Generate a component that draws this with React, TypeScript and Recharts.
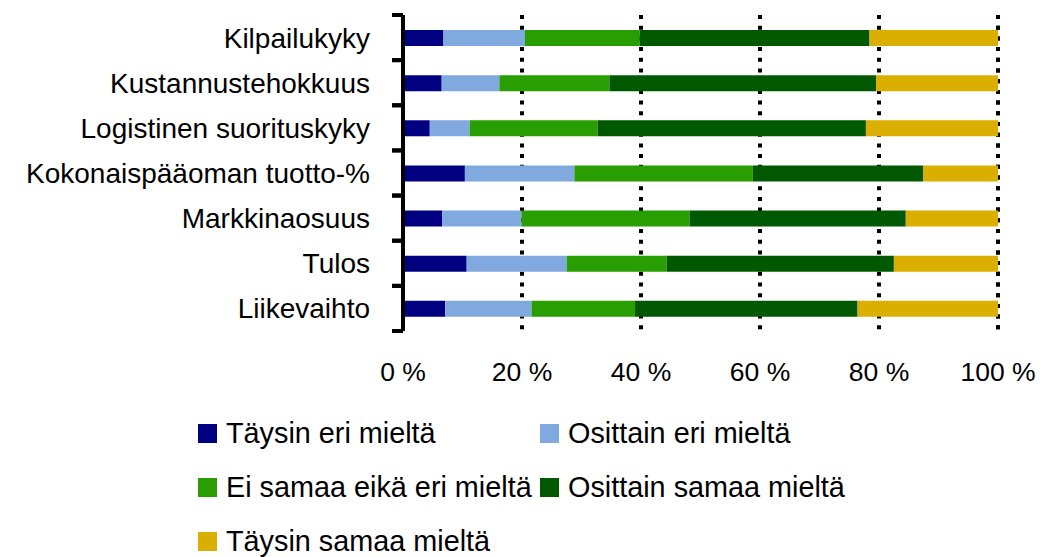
import { BarChart, Bar, XAxis, YAxis, CartesianGrid, Legend } from "recharts";

const categories = [
  "Kilpailukyky",
  "Kustannustehokkuus",
  "Logistinen suorituskyky",
  "Kokonaispääoman tuotto-%",
  "Markkinaosuus",
  "Tulos",
  "Liikevaihto",
];

const taysinEri = [6.8, 6.5, 4.5, 10.4, 6.6, 10.7, 7.1];
const osittainEri = [13.7, 9.7, 6.7, 18.4, 13.3, 16.8, 14.5];
const eiSamaaEikaEri = [19.3, 18.5, 21.5, 30.0, 28.3, 16.8, 17.4];
const osittainSamaa = [38.6, 44.8, 45.1, 28.6, 36.3, 38.2, 37.4];
const taysinSamaa = [21.6, 20.5, 22.2, 12.6, 15.5, 17.5, 23.6];

const xTicks = [0, 20, 40, 60, 80, 100];

const series = [
  { key: "taysinEri", name: "Täysin eri mieltä", color: "#000080" },
  { key: "osittainEri", name: "Osittain eri mieltä", color: "#7FA9DF" },
  { key: "eiSamaaEikaEri", name: "Ei samaa eikä eri mieltä", color: "#299E02" },
  { key: "osittainSamaa", name: "Osittain samaa mieltä", color: "#005900" },
  { key: "taysinSamaa", name: "Täysin samaa mieltä", color: "#DAAF00" },
];

const data = categories.map((name, i) => ({
  name,
  taysinEri: taysinEri[i],
  osittainEri: osittainEri[i],
  eiSamaaEikaEri: eiSamaaEikaEri[i],
  osittainSamaa: osittainSamaa[i],
  taysinSamaa: taysinSamaa[i],
}));

const FONT = '"Liberation Sans", Arial, sans-serif';
const PLOT_LEFT = 403;

// category label plus the little tick marks on band edges
const CategoryTick = (props: any) => {
  const { y, payload } = props;
  const half = payload?.offset ?? 22.6;
  return (
    <g>
      <line x1={PLOT_LEFT - 11} x2={PLOT_LEFT} y1={y - half} y2={y - half} stroke="#000" strokeWidth={4} />
      <line x1={PLOT_LEFT - 11} x2={PLOT_LEFT} y1={y + half} y2={y + half} stroke="#000" strokeWidth={4} />
      <text x={PLOT_LEFT - 33} y={y + 10} textAnchor="end" fontSize={28} fontFamily={FONT} fill="#000">
        {payload.value}
      </text>
    </g>
  );
};

const LegendContent = () => (
  <div
    style={{
      display: "grid",
      gridTemplateColumns: "342px auto",
      gridAutoRows: "54px",
      fontFamily: FONT,
      fontSize: 28.8,
      lineHeight: "32px",
      color: "#000",
    }}
  >
    {series.map((s) => (
      <div key={s.key} style={{ display: "flex", alignItems: "center", whiteSpace: "nowrap" }}>
        <span style={{ width: 19, height: 19, background: s.color, marginRight: 9, flexShrink: 0 }} />
        <span>{s.name}</span>
      </div>
    ))}
  </div>
);

export default function App() {
  return (
    <div style={{ position: "absolute", left: 0, top: 0, background: "#fff" }}>
      <BarChart
        width={1040}
        height={557}
        data={data}
        layout="vertical"
        barSize={16}
        margin={{ top: 15, right: 42, bottom: 186, left: 0 }}
      >
        <CartesianGrid horizontal={false} stroke="#000" strokeWidth={4} strokeDasharray="4 6.7" />
        <XAxis
          type="number"
          domain={[0, 100]}
          ticks={xTicks}
          tickFormatter={(v) => `${v} %`}
          axisLine={false}
          tickLine={false}
          tickMargin={25}
          height={40}
          tick={{ fontSize: 26.5, fill: "#000", fontFamily: FONT }}
        />
        <YAxis
          type="category"
          dataKey="name"
          width={PLOT_LEFT}
          axisLine={{ stroke: "#000", strokeWidth: 4 }}
          tickLine={false}
          tick={<CategoryTick />}
        />
        {series.map((s) => (
          <Bar key={s.key} dataKey={s.key} name={s.name} stackId="a" fill={s.color} isAnimationActive={false} />
        ))}
        <Legend
          layout="horizontal"
          verticalAlign="middle"
          align="center"
          content={<LegendContent />}
          wrapperStyle={{ top: 406, left: 198, width: 700 }}
        />
      </BarChart>
    </div>
  );
}
